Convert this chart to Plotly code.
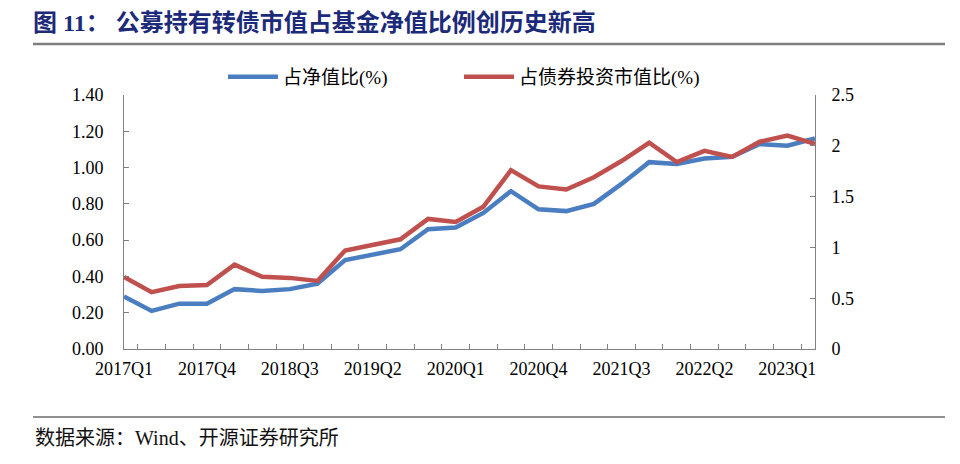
import plotly.graph_objects as go

quarters = ["2017Q1", "2017Q2", "2017Q3", "2017Q4", "2018Q1", "2018Q2", "2018Q3", "2018Q4",
            "2019Q1", "2019Q2", "2019Q3", "2019Q4", "2020Q1", "2020Q2", "2020Q3", "2020Q4",
            "2021Q1", "2021Q2", "2021Q3", "2021Q4", "2022Q1", "2022Q2", "2022Q3", "2022Q4",
            "2023Q1", "2023Q2"]
nav_ratio = [0.29, 0.21, 0.25, 0.25, 0.33, 0.32, 0.33, 0.36, 0.49, 0.52, 0.55, 0.66, 0.67,
             0.75, 0.87, 0.77, 0.76, 0.80, 0.91, 1.03, 1.02, 1.05, 1.06, 1.13, 1.12, 1.16]
bond_ratio = [0.71, 0.56, 0.62, 0.63, 0.83, 0.71, 0.70, 0.67, 0.97, 1.02, 1.08, 1.28, 1.25,
              1.40, 1.76, 1.60, 1.57, 1.69, 1.85, 2.03, 1.84, 1.95, 1.89, 2.04, 2.10, 2.02]
shown_labels = ["2017Q1", "2017Q4", "2018Q3", "2019Q2", "2020Q1", "2020Q4", "2021Q3", "2022Q2", "2023Q1"]
tick_text = [q if q in shown_labels else "" for q in quarters]

title_text = "图 11： 公募持有转债市值占基金净值比例创历史新高"
source_text = "数据来源：Wind、开源证券研究所"
series_names = ["占净值比(%)", "占债券投资市值比(%)"]

SERIF = "Liberation Serif, Noto Sans CJK SC"
AXIS_COLOR = "#808080"
PAD = "\u00a0" * 14  # spacing between legend entries

fig = go.Figure()
fig.add_trace(go.Scatter(x=quarters, y=nav_ratio, name=series_names[0] + PAD, mode="lines",
                         line=dict(color="#4a7ec0", width=4.5), yaxis="y"))
fig.add_trace(go.Scatter(x=quarters, y=bond_ratio, name=series_names[1], mode="lines",
                         line=dict(color="#c0504d", width=4.5), yaxis="y2"))

# page body has an 8px margin, so the figure is drawn 8px smaller and offset
OFF = 8
W, H = 960 - OFF, 464 - OFF
L, R, T, B = 124 - OFF, 815 - OFF, 95 - OFF, 349 - OFF
pw, ph = R - L, B - T


def px(xp):
    return (xp - OFF - L) / pw


def py(yp):
    return (B - (yp - OFF)) / ph


fig.update_layout(
    width=W, height=H,
    margin=dict(l=L, r=W - R, t=T, b=H - B, autoexpand=False),
    paper_bgcolor="white", plot_bgcolor="white",
    title=dict(text=title_text, x=(33 - OFF) / W, xref="container", xanchor="left",
               y=1 - (23 - OFF) / H, yref="container", yanchor="middle",
               font=dict(family=SERIF, size=24, color="#1c2a7a", weight="bold")),
    xaxis=dict(type="category", tickvals=quarters, ticktext=tick_text, tickson="boundaries",
               ticks="inside", ticklen=5, tickcolor=AXIS_COLOR, showline=True, linecolor=AXIS_COLOR,
               linewidth=1, showgrid=False, zeroline=False, tickangle=0,
               tickfont=dict(family=SERIF, size=18, color="#000"), ticklabelstandoff=3),
    yaxis=dict(range=[0, 1.4], dtick=0.2, tickformat=".2f", ticks="inside", ticklen=5,
               tickcolor=AXIS_COLOR, showline=True, linecolor=AXIS_COLOR, linewidth=1,
               showgrid=False, zeroline=False,
               tickfont=dict(family=SERIF, size=18, color="#000"), ticklabelstandoff=16),
    yaxis2=dict(range=[0, 2.5], dtick=0.5, overlaying="y", side="right", ticks="inside",
                ticklen=5, tickcolor=AXIS_COLOR, showline=True, linecolor=AXIS_COLOR, linewidth=1,
                showgrid=False, zeroline=False,
                tickfont=dict(family=SERIF, size=18, color="#000"), ticklabelstandoff=12),
    legend=dict(orientation="h", x=px(223), xanchor="left", y=py(77), yanchor="middle",
                font=dict(family=SERIF, size=19, color="#000"), bgcolor="rgba(0,0,0,0)",
                itemwidth=50),
    showlegend=True,
)

fig.add_shape(type="line", xref="paper", yref="paper", x0=px(33), x1=px(945), y0=py(44), y1=py(44),
              line=dict(color="#7f7f7f", width=2.5))
fig.add_shape(type="line", xref="paper", yref="paper", x0=px(33), x1=px(945), y0=py(417), y1=py(417),
              line=dict(color="#222", width=1.2))
fig.add_annotation(text=source_text, xref="paper", yref="paper", x=px(33), y=py(438),
                   xanchor="left", yanchor="middle", showarrow=False,
                   font=dict(family=SERIF, size=20, color="#111"))

fig.write_html("out.html")
